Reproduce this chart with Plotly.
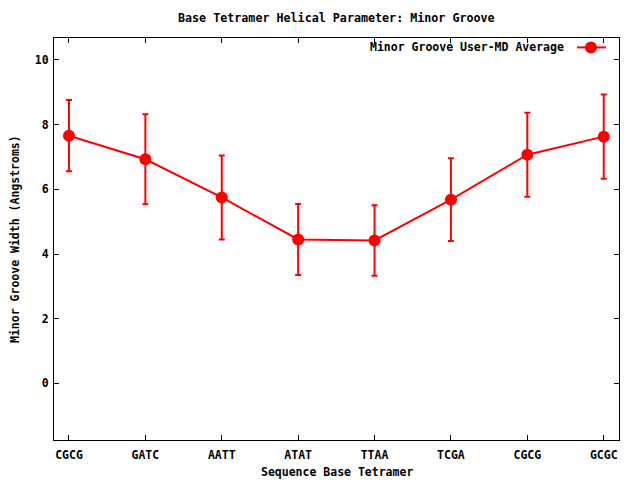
import plotly.graph_objects as go

categories = ["CGCG", "GATC", "AATT", "ATAT", "TTAA", "TCGA", "CGCG", "GCGC"]
minor_groove = [7.66, 6.93, 5.75, 4.45, 4.42, 5.68, 7.07, 7.63]
minor_groove_err = [1.10, 1.39, 1.30, 1.10, 1.09, 1.28, 1.30, 1.30]
y_ticks = [0, 2, 4, 6, 8, 10]
series_name = "Minor Groove User-MD Average"

FONT = "DejaVu Sans Mono"
FS = 11.5
RED = "#ff0000"
positions = list(range(len(categories)))

fig = go.Figure()
fig.add_trace(go.Scatter(
    x=positions, y=minor_groove, mode="lines+markers", name=series_name,
    line=dict(color=RED, width=2),
    marker=dict(color=RED, size=12, symbol="circle"),
    error_y=dict(type="data", array=minor_groove_err, visible=True,
                 color=RED, thickness=2, width=3),
    showlegend=False,
))

axis_common = dict(
    showline=True, linecolor="black", linewidth=1, mirror="ticks",
    ticks="inside", ticklen=5, tickcolor="black", tickwidth=1,
    showgrid=False, zeroline=False,
    tickfont=dict(family=FONT, size=FS, color="black", weight="bold"),
)

LEG_Y = 0.9766
fig.update_layout(
    width=640, height=480,
    paper_bgcolor="white", plot_bgcolor="white",
    margin=dict(l=54, r=21, t=38, b=40),
    xaxis=dict(range=[-0.196, 7.2], tickvals=positions, ticktext=categories,
               ticklabelstandoff=4, **axis_common),
    yaxis=dict(range=[-1.75, 10.68], tickvals=y_ticks, ticklabelstandoff=2, **axis_common),
    font=dict(family=FONT, size=FS, color="black"),
    annotations=[
        dict(text="<b>Base Tetramer Helical Parameter: Minor Groove</b>", xref="paper", yref="paper",
             x=0.5, y=1, yshift=20, xanchor="center", yanchor="middle", showarrow=False,
             font=dict(family=FONT, size=11.7)),
        dict(text="<b>Sequence Base Tetramer</b>", xref="paper", yref="paper",
             x=0.5, y=0, yshift=-32, xanchor="center", yanchor="middle", showarrow=False,
             font=dict(family=FONT, size=FS)),
        dict(text="<b>Minor Groove Width (Angstroms)</b>", xref="paper", yref="paper",
             x=0, xshift=-39, y=0.5, xanchor="center", yanchor="middle", showarrow=False,
             textangle=-90, font=dict(family=FONT, size=FS)),
        dict(text="<b>" + series_name + "</b>", xref="paper", yref="paper",
             x=1, xshift=-53, y=LEG_Y, xanchor="right", yanchor="middle", showarrow=False,
             font=dict(family=FONT, size=FS)),
    ],
    shapes=[
        dict(type="line", xref="paper", yref="paper", x0=0.9257, x1=0.977,
             y0=LEG_Y, y1=LEG_Y, line=dict(color=RED, width=2)),
        dict(type="circle", xref="paper", yref="paper", xsizemode="pixel", ysizemode="pixel",
             xanchor=0.9504, yanchor=LEG_Y, x0=-6, x1=6, y0=-6, y1=6,
             fillcolor=RED, line=dict(color=RED, width=0)),
    ],
)

fig.write_html("out.html", config={"displayModeBar": False},
               post_script="document.body.style.margin='0px';")
